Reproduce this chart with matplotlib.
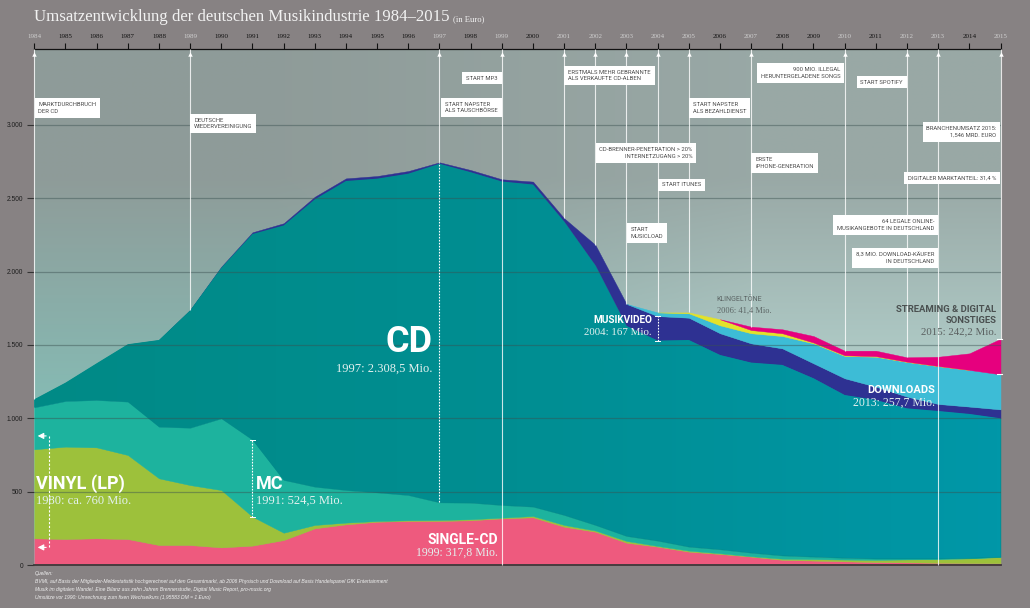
import numpy as np
import matplotlib
matplotlib.use("Agg")
import matplotlib.pyplot as plt
from matplotlib.colors import LinearSegmentedColormap
from matplotlib.ticker import FuncFormatter

# ---------------- data (Mio. Euro) ----------------
years = list(range(1984, 2016))
single = [182, 177, 182, 177, 136, 136, 120, 132, 170, 250, 277, 295, 300, 300, 305, 317.8,
          325, 261, 227, 152, 125, 91, 75, 57, 35, 30, 25, 20, 18, 15, 13, 12]
vinyl = [607, 630, 620, 573, 455, 409, 391, 198, 50, 23, 12, 5, 5, 7, 7, 5,
         9, 12, 8, 12, 5, 7, 5, 3, 8, 10, 12, 15, 20, 25, 32, 42]
mc = [286, 311, 323, 364, 352, 391, 489, 524.5, 360, 261, 222, 195, 172, 120, 113, 86,
      64, 68, 38, 34, 36, 27, 27, 24, 22, 17, 12, 9, 6, 4, 3, 2]
cd = [55, 125, 250, 391, 591, 800, 1026, 1402, 1735, 1959, 2107, 2139, 2191, 2308.5, 2253, 2206,
      2196, 2000, 1770, 1432, 1364, 1409, 1325, 1296, 1299, 1216, 1110, 1081, 1024, 1006, 982, 944]
video = [0, 0, 0, 0, 0, 3, 8, 12, 15, 18, 18, 18, 18, 10, 15, 15,
         20, 23, 140, 150, 167, 152, 148, 131, 113, 102, 114, 91, 80, 48, 50, 61]
downloads = [0] * 20 + [25, 30, 54, 69, 84, 136, 152, 204, 236, 257.7, 250, 239]
ringtones = [0] * 21 + [6, 41.4, 22, 19, 6, 5, 4, 2, 1, 0, 0]
streaming = [0] * 23 + [23, 27, 44, 31, 37, 30, 63, 113, 242.2]

layer_names = ["Single", "Vinyl (LP)", "MC", "CD", "Musikvideo", "Downloads", "Klingeltöne", "Streaming"]
layer_values = [single, vinyl, mc, cd, video, downloads, ringtones, streaming]
layer_colors = ["#EE5A7E", "#9DC13B", "#1DB39E", "#008C8A", "#2E3192", "#3DBCD6", "#E3E22A", "#E6007E"]

event_years = [1984, 1989, 1997, 1999, 2001, 2002, 2003, 2004, 2005, 2007, 2010, 2012, 2013, 2015]
full_lines = [1999, 2013]

# (anchor year, vertical position, text, side)
events = [
    (1984, 3116, "MARKTDURCHBRUCH\nDER CD", "left"),
    (1989, 3010, "DEUTSCHE\nWIEDERVEREINIGUNG", "left"),
    (1999, 3320, "START MP3", "right"),
    (1999, 3119, "START NAPSTER\nALS TAUSCHBÖRSE", "right"),
    (2001, 3337, "ERSTMALS MEHR GEBRANNTE\nALS VERKAUFTE CD-ALBEN", "left"),
    (2002, 2809, "CD-BRENNER-PENETRATION > 20%\nINTERNETZUGANG > 20%", "leftbox_right"),
    (2004, 2591, "START ITUNES", "left"),
    (2003, 2264, "START\nMUSICLOAD", "left"),
    (2005, 3116, "START NAPSTER\nALS BEZAHLDIENST", "left"),
    (2010, 3355, "900 MIO. ILLEGAL\nHERUNTERGELADENE SONGS", "right"),
    (2012, 3293, "START SPOTIFY", "right"),
    (2007, 2741, "ERSTE\niPHONE-GENERATION", "left"),
    (2015, 2952, "BRANCHENUMSATZ 2015:\n1,546 MRD. EURO", "right"),
    (2015, 2639, "DIGITALER MARKTANTEIL: 31,4 %", "right"),
    (2013, 2318, "64 LEGALE ONLINE-\nMUSIKANGEBOTE IN DEUTSCHLAND", "right"),
    (2013, 2093, "8,3 MIO. DOWNLOAD-KÄUFER\nIN DEUTSCHLAND", "right"),
]

VINYL_1980 = 760
y_ticks = [0, 500, 1000, 1500, 2000, 2500, 3000]
YMAX = 3518

# ---------------- figure ----------------
W, H = 1030, 608
fig = plt.figure(figsize=(W / 100, H / 100), dpi=100)
fig.patch.set_facecolor("#878283")
ax = fig.add_axes([34.3 / W, 1 - 565 / H, (1000.5 - 34.3) / W, (565 - 49) / H])

# background gradient
bg = np.array([[[0.56, 0.61, 0.60], [0.60, 0.66, 0.65]],
               [[0.52, 0.75, 0.72], [0.72, 0.85, 0.83]]])
ax.imshow(bg, extent=[1984, 2015, 0, YMAX], aspect="auto", interpolation="bilinear",
          origin="upper", zorder=0)

# stacked layers
x = np.array(years, dtype=float)
base = np.zeros(len(years))
polys = []
tops = []
for vals, col in zip(layer_values, layer_colors):
    v = np.array(vals, dtype=float)
    top = base + v
    pos = v > 0
    mask = pos.copy()
    mask[:-1] |= pos[1:]
    mask[1:] |= pos[:-1]
    p = ax.fill_between(x, base, top, where=mask, facecolor=col, edgecolor=col,
                        linewidth=0.3, zorder=2)
    polys.append(p)
    tops.append(top.copy())
    base = top
total = base

# CD gradient
cd_cmap = LinearSegmentedColormap.from_list("cdgrad", ["#008A86", "#008E92", "#0097A8"])
im = ax.imshow(np.linspace(0, 1, 256)[None, :], extent=[1984, 2015, 0, YMAX], aspect="auto",
               cmap=cd_cmap, zorder=2.05)
im.set_clip_path(polys[3].get_paths()[0], ax.transData)

ax.set_xlim(1984, 2015)
ax.set_ylim(0, YMAX)

# grid lines
for yv in y_ticks[1:]:
    ax.axhline(yv, color="#3a5150", alpha=0.45, lw=0.9, zorder=3)

# event lines
yr_idx = {y: i for i, y in enumerate(years)}
for ey in event_years:
    lo = 0 if ey in full_lines else total[yr_idx[ey]]
    ax.plot([ey, ey], [lo, YMAX], color="white", lw=0.8, alpha=0.8, zorder=4,
            solid_capstyle="butt", clip_on=False)
    ax.plot([ey], [YMAX - 35], marker="^", ms=3.2, color="white", mec="none", zorder=6,
            clip_on=False)

# brackets
def vbracket(xv, lo, hi, caps=True):
    ax.plot([xv, xv], [lo, hi], color="white", lw=0.8, ls=(0, (1.5, 1.2)), zorder=5)
    if caps:
        for yv in (lo, hi):
            ax.plot([xv - 0.07, xv + 0.07], [yv, yv], color="white", lw=0.7, zorder=5)

i91, i97, i04 = yr_idx[1991], yr_idx[1997], yr_idx[2004]
vbracket(1991, tops[1][i91], tops[2][i91])
vbracket(1997, tops[2][i97], tops[4][i97], caps=False)
vbracket(2004, tops[3][i04], tops[4][i04])

# vinyl 1980 bracket
vx, vlo = 1984.47, 120
vhi = vlo + VINYL_1980
ax.plot([vx, vx], [vlo, vhi], color="white", lw=0.8, ls=(0, (2, 1.5)), zorder=5)
for yv in (vlo, vhi):
    ax.annotate("", xy=(1984.02, yv), xytext=(vx, yv),
                arrowprops=dict(arrowstyle="-|>,head_length=0.35,head_width=0.18",
                                color="white", lw=0.8), zorder=6)

# 2015 end marks
i15 = yr_idx[2015]
for yv in (tops[6][i15], total[i15]):
    ax.plot([2014.9, 2015.05], [yv, yv], color="white", lw=0.8, zorder=5, clip_on=False)

# ---------------- axes styling ----------------
for s in ("left", "right"):
    ax.spines[s].set_visible(False)
ax.spines["top"].set_color("#111111")
ax.spines["top"].set_linewidth(0.9)
ax.spines["bottom"].set_color("#3a3a3a")
ax.spines["bottom"].set_linewidth(1.3)

ax.set_yticks(y_ticks)
ax.yaxis.set_major_formatter(FuncFormatter(lambda v, p: f"{int(v):,}".replace(",", ".")))
ax.tick_params(axis="y", length=5, width=0.8, color="#333333", pad=3, labelsize=4.8,
               labelcolor="#1e1e1e")
for lab in ax.get_yticklabels():
    lab.set_family("Liberation Sans")

ax.xaxis.tick_top()
ax.set_xticks(years)
ax.set_xticklabels([str(y) for y in years])
ax.tick_params(axis="x", top=True, bottom=False, length=4, width=0.8, color="#111111",
               pad=3.5, labelsize=5)
for lab, y in zip(ax.get_xticklabels(), years):
    lab.set_family("Liberation Serif")
    lab.set_color("#d0d0d0" if y in event_years else "#111111")

# ---------------- title ----------------
fig.text(34 / W, 1 - 21 / H, "Umsatzentwicklung der deutschen Musikindustrie 1984–2015",
         family=["Liberation Serif", "DejaVu Serif"], fontsize=12.1, color="#f2f2f2",
         ha="left", va="baseline")
fig.text(453 / W, 1 - 21 / H, "(in Euro)", family="Liberation Serif", fontsize=6.2,
         color="#f2f2f2", ha="left", va="baseline")

# ---------------- event boxes ----------------
off = 0.13
for ey, yv, txt, side in events:
    if side == "left":
        xt, ha, ma = ey + off, "left", "left"
    elif side == "leftbox_right":
        xt, ha, ma = ey + off, "left", "right"
    else:
        xt, ha, ma = ey - off, "right", "left" if "\n" not in txt else "right"
    if side == "right" and txt.startswith(("START NAPSTER", "ERSTMALS")):
        ma = "left"
    ax.text(xt, yv, txt, ha=ha, va="center", multialignment=ma, fontsize=4.2,
            family=["Roboto", "DejaVu Sans"], color="#4a4a4a", linespacing=1.45,
            zorder=8, bbox=dict(boxstyle="square,pad=0.65", fc="white", ec="none"))

# ---------------- layer labels ----------------
bold = dict(family=["Roboto", "DejaVu Sans"], fontweight="bold", color="white", zorder=9)
serif = dict(family=["Liberation Serif", "DejaVu Serif"], color="#e3f1ef", zorder=9)

ax.text(1996.76, 1523, "CD", ha="right", va="center", fontsize=26, **bold)
ax.text(1996.76, 1336, "1997: 2.308,5 Mio.", ha="right", va="center", fontsize=9, **serif)

ax.text(1984.05, 552, "VINYL (LP)", ha="left", va="center", fontsize=13, **bold)
ax.text(1984.05, 436, "1980: ca. 760 Mio.", ha="left", va="center", fontsize=9, **serif)

ax.text(1991.11, 552, "MC", ha="left", va="center", fontsize=13, **bold)
ax.text(1991.11, 436, "1991: 524,5 Mio.", ha="left", va="center", fontsize=9, **serif)

ax.text(1998.88, 170, "SINGLE-CD", ha="right", va="center", fontsize=10, **bold)
ax.text(1998.88, 82, "1999: 317,8 Mio.", ha="right", va="center", fontsize=8.5, **serif)

ax.text(2003.82, 1670, "MUSIKVIDEO", ha="right", va="center", fontsize=7.2, **bold)
ax.text(2003.82, 1582, "2004: 167 Mio.", ha="right", va="center", fontsize=7.8, **serif)

ax.text(2012.90, 1193, "DOWNLOADS", ha="right", va="center", fontsize=8, **bold)
ax.text(2012.90, 1108, "2013: 257,7 Mio.", ha="right", va="center", fontsize=8.5, **serif)

ax.text(2005.90, 1813, "KLINGELTÖNE", ha="left", va="center", fontsize=5,
        family=["Roboto", "DejaVu Sans"], color="#5b6464", zorder=9)
ax.text(2005.90, 1732, "2006: 41,4 Mio.", ha="left", va="center", fontsize=6,
        family=["Liberation Serif", "DejaVu Serif"], color="#5b6464", zorder=9)

ax.text(2014.87, 1739, "STREAMING & DIGITAL", ha="right", va="center", fontsize=6.8,
        family=["Roboto", "DejaVu Sans"], fontweight="bold", color="#4a5050", zorder=9)
ax.text(2014.87, 1664, "SONSTIGES", ha="right", va="center", fontsize=6.8,
        family=["Roboto", "DejaVu Sans"], fontweight="bold", color="#4a5050", zorder=9)
ax.text(2014.87, 1589, "2015: 242,2 Mio.", ha="right", va="center", fontsize=7.8,
        family=["Liberation Serif", "DejaVu Serif"], color="#5a6060", zorder=9)

# ---------------- sources ----------------
src = ["Quellen:",
       "BVMI, auf Basis der Mitglieder-Meldestatistik hochgerechnet auf den Gesamtmarkt, ab 2006 Physisch und Download auf Basis Handelspanel GfK Entertainment",
       "Musik im digitalen Wandel. Eine Bilanz aus zehn Jahren Brennerstudie, Digital Music Report, pro-music.org",
       "Umsätze vor 1990: Umrechnung zum fixen Wechselkurs (1,95583 DM = 1 Euro)"]
for k, line in enumerate(src):
    fig.text(35 / W, 1 - (573 + 8 * k) / H, line, fontsize=3.6, style="italic",
             family=["Liberation Sans", "DejaVu Sans"], color="#f0f0f0", ha="left", va="center")

fig.savefig("out.png", dpi=100, facecolor=fig.get_facecolor())
